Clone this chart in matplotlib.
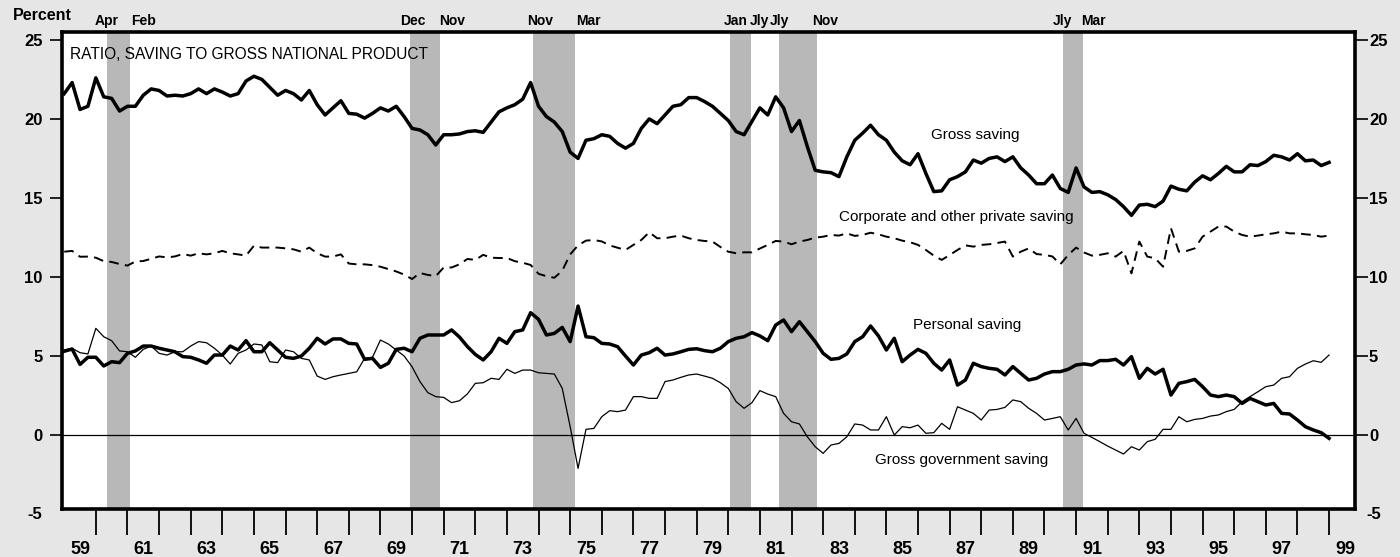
import numpy as np
import matplotlib
matplotlib.use('Agg')
import matplotlib.pyplot as plt
from matplotlib.transforms import offset_copy

plt.rcParams['font.family'] = ['Liberation Sans Narrow', 'Liberation Sans', 'DejaVu Sans']

# ---------------- data (quarterly, 1959Q1 - 1999Q1), percent of GNP ----------------
start_year = 1959

gross_saving = [
    21.6, 22.3, 20.6, 20.8,  22.6, 21.4, 21.3, 20.5,  20.8, 20.8, 21.5, 21.9,
    21.8, 21.45, 21.5, 21.45,  21.6, 21.9, 21.6, 21.9,  21.7, 21.45, 21.6, 22.4,
    22.7, 22.5, 22.0, 21.5,  21.8, 21.6, 21.2, 21.8,  20.9, 20.25, 20.7, 21.15,
    20.35, 20.3, 20.05, 20.35,  20.7, 20.5, 20.8, 20.15,  19.4, 19.3, 19.0, 18.35,
    19.0, 19.0, 19.05, 19.2,  19.25, 19.15, 19.8, 20.45,  20.7, 20.9, 21.25, 22.3,
    20.8, 20.15, 19.8, 19.2,  17.9, 17.5, 18.65, 18.75,  19.0, 18.9, 18.45, 18.15,
    18.45, 19.4, 20.0, 19.7,  20.25, 20.8, 20.9, 21.35,  21.35, 21.1, 20.8, 20.35,
    19.9, 19.2, 19.0, 19.85,  20.7, 20.25, 21.4, 20.7,  19.2, 19.9, 18.25, 16.75,
    16.65, 16.6, 16.35, 17.6,  18.65, 19.1, 19.6, 19.0,  18.65, 17.9, 17.35, 17.1,
    17.8, 16.55, 15.4, 15.45,  16.15, 16.35, 16.65, 17.4,  17.2, 17.5, 17.6, 17.3,
    17.6, 16.9, 16.45, 15.9,  15.9, 16.45, 15.6, 15.35,  16.9, 15.7, 15.35, 15.4,
    15.2, 14.9, 14.45, 13.9,  14.55, 14.6, 14.45, 14.8,  15.75, 15.55, 15.45, 16.0,
    16.4, 16.15, 16.55, 17.0,  16.65, 16.65, 17.1, 17.05,  17.3, 17.7, 17.6, 17.4,
    17.8, 17.35, 17.4, 17.05,  17.25,
]

corporate_saving = [
    11.6, 11.65, 11.28, 11.29,  11.22, 11.0, 10.95, 10.82,  10.72, 10.98, 11.01, 11.15,
    11.3, 11.24, 11.3, 11.45,  11.35, 11.5, 11.43, 11.5,  11.65, 11.5, 11.43, 11.35,
    11.98, 11.86, 11.86, 11.86,  11.81, 11.75, 11.6, 11.86,  11.5, 11.29, 11.29, 11.43,
    10.85, 10.8, 10.8, 10.75,  10.65, 10.5, 10.35, 10.15,  9.87, 10.25, 10.13, 10.05,
    10.6, 10.6, 10.8, 11.14,  11.08, 11.4, 11.22, 11.2,  11.2, 11.0, 10.9, 10.76,
    10.2, 10.05, 9.95, 10.4,  11.43, 12.0, 12.3, 12.34,  12.25, 12.0, 11.85, 11.71,
    12.03, 12.34, 12.83, 12.45,  12.45, 12.55, 12.62, 12.45,  12.34, 12.28, 12.24, 11.9,
    11.6, 11.5, 11.56, 11.56,  11.8, 12.03, 12.28, 12.24,  12.07, 12.24, 12.34, 12.49,
    12.55, 12.66, 12.62, 12.76,  12.6, 12.66, 12.8, 12.7,  12.55, 12.45, 12.3, 12.2,
    12.03, 11.71, 11.35, 11.08,  11.39, 11.71, 12.0, 11.92,  12.03, 12.07, 12.15, 12.24,
    11.29, 11.6, 11.81, 11.45,  11.4, 11.3, 10.8, 11.39,  11.86, 11.55, 11.35, 11.4,
    11.5, 11.29, 11.65, 10.23,  12.24, 11.29, 11.18, 10.65,  13.08, 11.6, 11.65, 11.81,
    12.55, 12.87, 13.19, 13.19,  12.87, 12.66, 12.55, 12.62,  12.7, 12.76, 12.87, 12.76,
    12.76, 12.7, 12.66, 12.55,  12.62,
]

personal_saving = [
    5.3, 5.44, 4.47, 4.92,  4.92, 4.37, 4.64, 4.58,  5.17, 5.32, 5.63, 5.63,
    5.49, 5.38, 5.27, 4.96,  4.92, 4.75, 4.54, 5.06,  5.06, 5.63, 5.38, 5.97,
    5.27, 5.27, 5.84, 5.38,  4.92, 4.85, 5.0, 5.49,  6.12, 5.76, 6.08, 6.08,
    5.8, 5.76, 4.79, 4.85,  4.28, 4.54, 5.42, 5.49,  5.27, 6.12, 6.33, 6.33,
    6.33, 6.65, 6.2, 5.6,  5.1, 4.75, 5.27, 6.12,  5.8, 6.54, 6.65, 7.74,
    7.32, 6.33, 6.43, 6.81,  5.91, 8.16, 6.22, 6.16,  5.8, 5.76, 5.59, 5.0,
    4.43, 5.06, 5.21, 5.49,  5.06, 5.13, 5.27, 5.42,  5.46, 5.34, 5.27, 5.49,
    5.91, 6.12, 6.22, 6.48,  6.27, 5.97, 6.96, 7.28,  6.54, 7.17, 6.54, 5.91,
    5.17, 4.79, 4.85, 5.13,  5.91, 6.22, 6.9, 6.27,  5.38, 6.12, 4.64, 5.06,
    5.42, 5.17, 4.54, 4.11,  4.75, 3.16, 3.48, 4.54,  4.33, 4.22, 4.16, 3.8,
    4.33, 3.9, 3.48, 3.59,  3.86, 4.01, 4.01, 4.16,  4.43, 4.5, 4.43, 4.71,
    4.71, 4.79, 4.43, 4.96,  3.59, 4.22, 3.86, 4.16,  2.53, 3.27, 3.38, 3.52,
    3.06, 2.53, 2.43, 2.53,  2.43, 2.0, 2.32, 2.11,  1.9, 2.0, 1.37, 1.33,
    0.95, 0.53, 0.32, 0.15,  -0.21,
]

government_saving = [
    5.38, 5.49, 5.21, 5.13,  6.75, 6.22, 5.97, 5.32,  5.27, 4.92, 5.42, 5.63,
    5.17, 5.06, 5.27, 5.27,  5.63, 5.91, 5.84, 5.49,  5.06, 4.49, 5.17, 5.38,
    5.76, 5.7, 4.64, 4.58,  5.38, 5.27, 4.85, 4.75,  3.73, 3.52, 3.69, 3.8,
    3.9, 4.0, 4.85, 4.92,  6.01, 5.76, 5.38, 5.0,  4.32, 3.38, 2.68, 2.43,
    2.38, 2.05, 2.17, 2.6,  3.27, 3.31, 3.59, 3.52,  4.16, 3.9, 4.11, 4.11,
    3.94, 3.9, 3.86, 2.95,  0.53, -2.11, 0.36, 0.42,  1.16, 1.54, 1.48, 1.58,
    2.43, 2.43, 2.32, 2.32,  3.38, 3.48, 3.65, 3.8,  3.86, 3.73, 3.59, 3.31,
    2.95, 2.11, 1.69, 2.05,  2.81, 2.59, 2.43, 1.37,  0.84, 0.7, -0.11, -0.74,
    -1.16, -0.63, -0.53, -0.11,  0.7, 0.63, 0.32, 0.32,  1.16, 0.0, 0.53, 0.46,
    0.63, 0.11, 0.15, 0.74,  0.36, 1.79, 1.58, 1.37,  0.95, 1.58, 1.62, 1.75,
    2.22, 2.11, 1.69, 1.37,  0.95, 1.05, 1.16, 0.32,  1.05, 0.11, -0.15, -0.42,
    -0.7, -0.95, -1.2, -0.74,  -0.95, -0.42, -0.27, 0.36,  0.36, 1.16, 0.84, 0.99,
    1.05, 1.2, 1.27, 1.48,  1.62, 2.11, 2.43, 2.74,  3.06, 3.16, 3.59, 3.69,
    4.22, 4.49, 4.7, 4.6,  5.06,
]

# recessions (peak, trough) in decimal years
recession_start = [1960.34, 1969.94, 1973.82, 1980.04, 1981.62, 1990.60]
recession_end = [1961.08, 1970.87, 1975.16, 1980.72, 1982.80, 1991.21]
recession_labels = ['Apr', 'Feb', 'Dec', 'Nov', 'Nov', 'Mar', 'Jan', 'Jly', 'Jly', 'Nov', 'Jly', 'Mar']

y_ticks = [0, 5, 10, 15, 20, 25]
x_label_years = list(range(1959, 2000, 2))
x_tick_labels = [f"{y % 100:02d}" for y in x_label_years]

title = 'RATIO, SAVING TO GROSS NATIONAL PRODUCT'

# ---------------- figure ----------------
W, H = 1400, 557
fig = plt.figure(figsize=(W / 100, H / 100), dpi=100, facecolor='#e6e6e6')
L, R, T, B = 62, 1355, 32, 509
ax = fig.add_axes([L / W, (H - B) / H, (R - L) / W, (B - T) / H])
ax.set_facecolor('white')

n = len(gross_saving)
t = start_year + np.arange(n) / 4.0

ax.set_xlim(1958.93, 1999.82)
ax.set_ylim(-4.68, 25.5)

for s, e in zip(recession_start, recession_end):
    ax.axvspan(s, e, color='#b8b8b8', lw=0, zorder=1)

ax.axhline(0, color='black', lw=0.9, zorder=2)
ax.plot(t, corporate_saving, color='black', lw=1.4, ls=(0, (5, 3.2)), zorder=3)
ax.plot(t, government_saving, color='black', lw=0.9, zorder=3)
ax.plot(t, gross_saving, color='black', lw=2.5, zorder=4)
ax.plot(t, personal_saving, color='black', lw=2.5, zorder=4)

for sp in ax.spines.values():
    sp.set_linewidth(2.6)
    sp.set_zorder(6)

# y axis (left)
ax.set_yticks(y_ticks)
ax.set_yticklabels([str(v) for v in y_ticks], fontsize=12, fontweight='bold')
ax.tick_params(axis='y', direction='out', length=9, width=1.2, pad=5)

# y axis (right)
ax2 = ax.twinx()
ax2.set_ylim(ax.get_ylim())
ax2.set_yticks(y_ticks)
ax2.set_yticklabels([str(v) for v in y_ticks], fontsize=12, fontweight='bold')
ax2.tick_params(axis='y', direction='out', length=9, width=1.2, pad=1)
for sp in ax2.spines.values():
    sp.set_visible(False)

# "-5" labels below the frame
ax.text(0, -5, '-5', transform=offset_copy(ax.get_yaxis_transform(), fig=fig, x=-20, y=0, units='dots'),
        ha='right', va='center', fontsize=12, fontweight='bold', clip_on=False)
ax.text(1, -5, '-5', transform=offset_copy(ax.get_yaxis_transform(), fig=fig, x=11, y=0, units='dots'),
        ha='left', va='center', fontsize=12, fontweight='bold', clip_on=False)

# x axis: long ticks at year boundaries, labels mid-year of odd years
ax.set_xticks(np.arange(1960, 2000))
ax.set_xticklabels([])
ax.tick_params(axis='x', which='major', direction='out', length=19, width=1.3)
ax.set_xticks(np.array(x_label_years) + 0.5, minor=True)
ax.set_xticklabels(x_tick_labels, minor=True, fontsize=13, fontweight='bold')
ax.tick_params(axis='x', which='minor', length=0, pad=23)

# recession month labels above the frame
label_x = [1960.34, 1961.50, 1970.03, 1971.28, 1974.05, 1975.58,
           1980.22, 1980.99, 1981.62, 1983.06, 1990.57, 1991.56]
for lab, xx in zip(recession_labels, label_x):
    ax.text(xx, 1.023, lab, transform=ax.get_xaxis_transform(), ha='center', va='center',
            fontsize=10, fontweight='bold', clip_on=False)

fig.text(13 / W, 1 - 15 / H, 'Percent', ha='left', va='center', fontsize=11.5, fontweight='bold')

ax.text(0.0062, 0.952, title, transform=ax.transAxes, ha='left', va='center', fontsize=11.2, zorder=7)

ax.text(1987.82, 19.0, 'Gross saving', ha='center', va='center', fontsize=11, zorder=7)
ax.text(1987.21, 13.8, 'Corporate and other private saving', ha='center', va='center', fontsize=11, zorder=7)
ax.text(1987.55, 6.96, 'Personal saving', ha='center', va='center', fontsize=11, zorder=7)
ax.text(1987.38, -1.58, 'Gross government saving', ha='center', va='center', fontsize=11, zorder=7)

fig.savefig('out.png', dpi=100, facecolor=fig.get_facecolor())
